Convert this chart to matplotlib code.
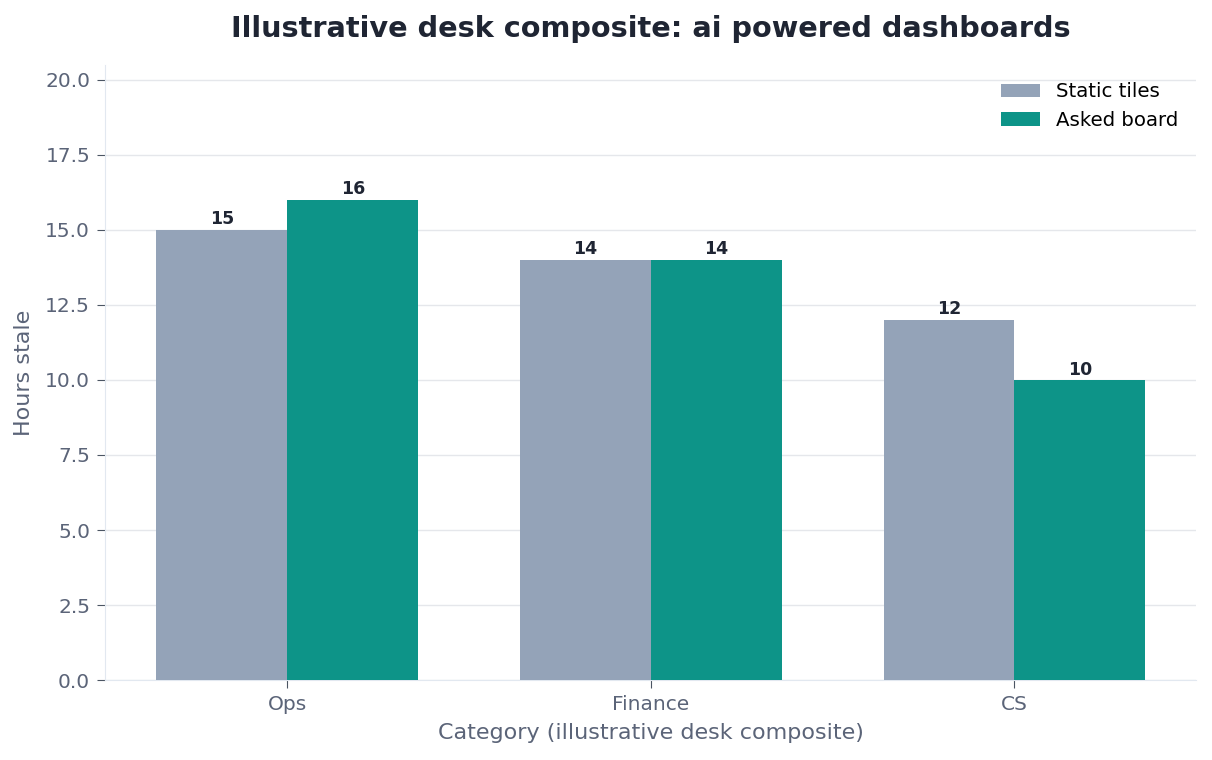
import numpy as np
import matplotlib
matplotlib.use('Agg')
import matplotlib.pyplot as plt

# Daten
categories = ['Ops', 'Finance', 'CS']
static_tiles = [15, 14, 12]
asked_board = [16, 14, 10]

x = np.arange(len(categories))
w = 0.36

fig, ax = plt.subplots(figsize=(12.12, 7.6), dpi=100)
fig.subplots_adjust(left=0.087, right=0.987, top=0.915, bottom=0.105)

b1 = ax.bar(x - w / 2, static_tiles, w, color='#94a3b8', label='Static tiles', zorder=3)
b2 = ax.bar(x + w / 2, asked_board, w, color='#0d9488', label='Asked board', zorder=3)

for bars in (b1, b2):
    ax.bar_label(bars, fmt='%d', padding=1, fontsize=12.5, fontweight='bold', color='#1f2533')

ax.set_xlim(-0.5, 2.5)
ax.set_ylim(0, 20.5)
ax.set_yticks(np.arange(0, 20.1, 2.5))
ax.set_xticks(x)
ax.set_xticklabels(categories)

ax.grid(axis='y', color='#e5e7eb', linewidth=1, zorder=0)
ax.set_axisbelow(True)
for s in ['top', 'right']:
    ax.spines[s].set_visible(False)
for s in ['left', 'bottom']:
    ax.spines[s].set_color('#e2e8f0')
ax.tick_params(colors='#4b5563', labelsize=14.5, length=6, pad=5)
for lbl in ax.get_xticklabels() + ax.get_yticklabels():
    lbl.set_color('#5b6478')

ax.set_title('Illustrative desk composite: ai powered dashboards', fontsize=20.7,
             fontweight='bold', color='#1f2533', pad=20)
ax.set_xlabel('Category (illustrative desk composite)', fontsize=16, color='#5b6478', labelpad=6)
ax.set_ylabel('Hours stale', fontsize=16, color='#5b6478', labelpad=8)

ax.legend(frameon=False, fontsize=14.2, loc='upper right')

fig.savefig('out.png', dpi=100)
